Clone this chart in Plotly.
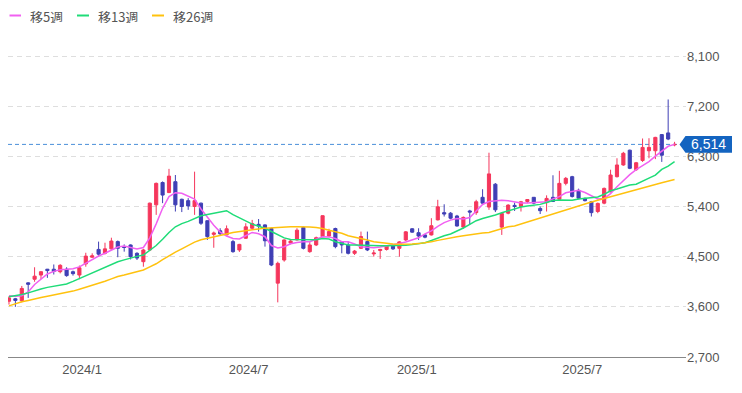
import pandas as pd
import plotly.graph_objects as go

# ---- data (weekly candles) ----
dates = pd.date_range("2023-10-13", periods=105, freq="7D")

opens = [3700, 3745, 3710, 4030, 4095, 4170, 4275, 4275, 4230, 4275,
         4230, 4170, 4370, 4490, 4630, 4560, 4640, 4770, 4680, 4710,
         4560, 4410, 4620, 5430, 5830, 5650, 5845, 5530, 5505, 5400,
         5460, 5145, 4900, 4965, 4890, 4770, 4620, 4830, 5010, 5080,
         5070, 5005, 4025, 4440, 4745, 4800, 5025, 4590, 4710, 4860,
         4870, 5005, 4770, 4710, 4560, 4650, 4770, 4550, 4610, 4630,
         4690, 4650, 4800, 5000, 4930, 4890, 4890, 5160, 5290, 5280,
         5230, 5030, 5320, 5290, 5565, 5390, 5800, 5030, 5280, 5420,
         5400, 5490, 5565, 5365, 5470, 5565, 5530, 5815, 5935, 5690,
         5545, 5485, 5310, 5460, 5665, 5935, 6145, 6410, 6060, 6225,
         6400, 6400, 6690, 6720, 6505]
highs = [3790, 3760, 3975, 4040, 4310, 4240, 4280, 4360, 4365, 4310,
         4250, 4340, 4570, 4560, 4770, 4750, 4840, 4790, 4720, 4720,
         4580, 4640, 5470, 5830, 5850, 6075, 5965, 5540, 5550, 6025,
         5470, 5150, 4950, 5010, 5060, 4800, 4730, 5100, 5160, 5175,
         5080, 5020, 4410, 4810, 4800, 5010, 5040, 4760, 4860, 5240,
         5000, 5020, 4780, 4770, 4620, 4950, 4950, 4620, 4640, 4700,
         4700, 4780, 4960, 5010, 5010, 4900, 5190, 5520, 5440, 5300,
         5250, 5220, 5340, 5520, 5710, 6365, 5820, 5290, 5440, 5470,
         5500, 5530, 5570, 5400, 5600, 5960, 6040, 5930, 5950, 5720,
         5560, 5500, 5470, 5740, 6060, 6265, 6380, 6420, 6200, 6620,
         6625, 6650, 6700, 7320, 6560]
lows = [3640, 3600, 3680, 3760, 4050, 4100, 4120, 4180, 4200, 4140,
        4160, 4095, 4320, 4480, 4500, 4540, 4620, 4490, 4590, 4450,
        4440, 4320, 4600, 5250, 5460, 5640, 5310, 5300, 5340, 5250,
        5070, 4800, 4660, 4890, 4880, 4570, 4585, 4820, 4990, 4950,
        4680, 4330, 3680, 4410, 4720, 4790, 4630, 4570, 4690, 4850,
        4850, 4650, 4560, 4540, 4530, 4640, 4600, 4500, 4460, 4610,
        4620, 4500, 4780, 4930, 4800, 4830, 4880, 5150, 5220, 5170,
        5040, 5000, 5080, 5250, 5440, 5340, 5300, 4890, 5260, 5320,
        5310, 5460, 5440, 5265, 5310, 5480, 5520, 5780, 5560, 5530,
        5490, 5220, 5280, 5440, 5650, 5920, 6130, 6070, 6040, 6200,
        6265, 6250, 6200, 6590, 6480]
closes = [3760, 3715, 3930, 4005, 4150, 4230, 4250, 4235, 4345, 4160,
          4195, 4300, 4510, 4515, 4545, 4640, 4780, 4650, 4665, 4500,
          4475, 4620, 5460, 5815, 5605, 5945, 5430, 5400, 5410, 5505,
          5100, 4860, 4925, 4910, 5000, 4590, 4720, 5035, 5095, 5050,
          4785, 4350, 4380, 4800, 4780, 4975, 4650, 4710, 4840, 5235,
          4950, 4680, 4710, 4560, 4600, 4860, 4620, 4565, 4630, 4690,
          4640, 4765, 4945, 4940, 4870, 4850, 5055, 5395, 5265, 5190,
          5050, 5205, 5300, 5485, 5460, 5985, 5340, 5275, 5425, 5400,
          5485, 5525, 5460, 5325, 5545, 5490, 5815, 5905, 5580, 5550,
          5505, 5290, 5455, 5725, 5965, 6145, 6355, 6085, 6185, 6460,
          6460, 6640, 6320, 6610, 6514]

ma5 = [3798, 3789, 3798, 3868, 4001, 4103, 4189, 4236, 4266, 4273,
       4284, 4316, 4386, 4451, 4512, 4562, 4612, 4673, 4689, 4663,
       4638, 4664, 4838, 5089, 5368, 5577, 5648, 5637, 5587, 5533,
       5355, 5206, 5063, 4941, 4871, 4826, 4817, 4876, 4935, 4912,
       4858, 4700, 4655, 4679, 4731, 4754, 4768, 4768, 4810, 4858,
       4855, 4826, 4768, 4768, 4727, 4679, 4670, 4661, 4673, 4691,
       4709, 4736, 4763, 4799, 4838, 4910, 4962, 5045, 5111, 5156,
       5183, 5176, 5203, 5319, 5436, 5490, 5508, 5513, 5504, 5481,
       5461, 5463, 5468, 5481, 5486, 5536, 5578, 5646, 5669, 5691,
       5651, 5594, 5534, 5543, 5631, 5755, 5870, 5972, 6062, 6130,
       6206, 6304, 6399, 6480, 6514]
ma13 = [3780, 3798, 3821, 3850, 3891, 3920, 3949, 3968, 3986, 4010,
        4056, 4106, 4160, 4212, 4266, 4316, 4363, 4408, 4442, 4476,
        4505, 4530, 4609, 4700, 4813, 4935, 5036, 5093, 5133, 5183,
        5233, 5256, 5278, 5299, 5325, 5253, 5194, 5136, 5084, 5047,
        5009, 4951, 4894, 4837, 4810, 4808, 4799, 4799, 4803, 4824,
        4815, 4767, 4740, 4709, 4709, 4709, 4709, 4706, 4698, 4695,
        4695, 4702, 4707, 4718, 4731, 4751, 4790, 4839, 4875, 4907,
        4955, 5014, 5081, 5145, 5186, 5212, 5249, 5287, 5325, 5359,
        5391, 5407, 5421, 5438, 5472, 5506, 5517, 5517, 5511, 5533,
        5544, 5549, 5571, 5619, 5682, 5714, 5746, 5784, 5800, 5861,
        5909, 5963, 6066, 6125, 6207]
ma26 = [3617, 3656, 3690, 3715, 3746, 3769, 3791, 3812, 3836, 3861,
        3882, 3916, 3949, 3985, 4020, 4060, 4101, 4144, 4171, 4201,
        4232, 4261, 4318, 4372, 4446, 4519, 4580, 4641, 4707, 4760,
        4804, 4833, 4862, 4889, 4907, 4934, 4953, 4968, 4980, 4998,
        5012, 5021, 5025, 5032, 5038, 5038, 5038, 5032, 5021, 5005,
        4975, 4946, 4919, 4874, 4851, 4828, 4799, 4767, 4751, 4736,
        4727, 4724, 4722, 4727, 4734, 4745, 4768, 4792, 4817, 4840,
        4858, 4876, 4896, 4914, 4925, 4935, 4971, 5007, 5036, 5050,
        5086, 5126, 5163, 5201, 5238, 5274, 5308, 5341, 5386, 5420,
        5452, 5481, 5511, 5544, 5576, 5606, 5637, 5667, 5700, 5732,
        5764, 5795, 5827, 5857, 5886]

last_price = 6514
y_ticks = [2700, 3600, 4500, 5400, 6300, 7200, 8100]
x_tick_dates = ["2024-01-01", "2024-07-01", "2025-01-01", "2025-07-01"]
x_tick_text = ["2024/1", "2024/7", "2025/1", "2025/7"]
legend_names = ["移5週", "移13週", "移26週"]

UP = "#f5365c"
DOWN = "#3f3fb5"
MA_COLORS = ["#f160f1", "#1fdc78", "#ffc20e"]

fig = go.Figure()
fig.add_trace(go.Candlestick(
    x=dates, open=opens, high=highs, low=lows, close=closes,
    increasing=dict(line=dict(color=UP, width=1), fillcolor=UP),
    decreasing=dict(line=dict(color=DOWN, width=1), fillcolor=DOWN),
    showlegend=False, hoverinfo="skip",
))
for name, vals, col in zip(legend_names, [ma5, ma13, ma26], MA_COLORS):
    fig.add_trace(go.Scatter(x=dates, y=vals, mode="lines", name=name,
                             line=dict(color=col, width=1.5),
                             showlegend=False, hoverinfo="skip"))

# the page body has an 8px margin: figure coords = page coords - 8
OFF = 8
W, H = 742 - OFF, 393 - OFF
PL, PR, PT, PB = 8, 686, 30, 357          # plot box in page pixels
ML, MR = PL - OFF, W - (PR - OFF)
MT, MB = PT - OFF, H - (PB - OFF)
pw, ph = PR - PL, PB - PT


def px(xp):
    return (xp - PL) / pw


def py(yp):
    return 1 + (PT - yp) / ph


shapes = []
annotations = []
# custom legend
leg = [(9.5, 21, 29), (77, 89, 97), (152, 164, 172)]
for (x0, x1, xt), name, col in zip(leg, legend_names, MA_COLORS):
    shapes.append(dict(type="line", xref="paper", yref="paper",
                       x0=px(x0), x1=px(x1), y0=py(15.5), y1=py(15.5),
                       line=dict(color=col, width=2)))
    annotations.append(dict(xref="paper", yref="paper", x=px(xt), y=py(16),
                            text=name, showarrow=False, xanchor="left",
                            yanchor="middle", height=14, borderpad=0,
                            font=dict(size=13, color="#555",
                                      family="Noto Sans CJK JP")))

# last price line + label
shapes.append(dict(type="line", xref="paper", yref="y", x0=0, x1=px(680),
                   y0=last_price, y1=last_price, layer="below",
                   line=dict(color="#4a90d9", width=1, dash="4px,3px")))
hh = 150
shapes.append(dict(type="path", xref="paper", yref="y", layer="above",
                   path=(f"M {px(679.5)} {last_price} "
                         f"L {px(685.5)} {last_price + hh} "
                         f"L {px(732)} {last_price + hh} "
                         f"L {px(732)} {last_price - hh} "
                         f"L {px(685.5)} {last_price - hh} Z"),
                   fillcolor="#1464c0", line=dict(width=0)))
annotations.append(dict(xref="paper", yref="y", x=px(708.5), y=last_price,
                        text=f"{last_price:,}", showarrow=False,
                        xanchor="center", yanchor="middle",
                        font=dict(size=14, color="white",
                                  family="Liberation Sans, Arial")))

fig.update_layout(
    width=W, height=H,
    margin=dict(l=ML, r=MR, t=MT, b=MB, pad=0),
    paper_bgcolor="white", plot_bgcolor="white",
    shapes=shapes, annotations=annotations,
    showlegend=False,
    font=dict(family="Liberation Sans, Arial", color="#555"),
    xaxis=dict(
        type="date",
        range=["2023-10-11 22:00", "2025-10-22 12:00"],
        rangeslider=dict(visible=False),
        tickvals=x_tick_dates, ticktext=x_tick_text,
        showgrid=False, showline=True, linecolor="#888", linewidth=1,
        ticks="", tickfont=dict(size=13, color="#555"),
        zeroline=False,
    ),
    yaxis=dict(
        side="right",
        range=[2700, 2700 + ph * 17.94],
        tickvals=y_ticks, tickformat=",d",
        showgrid=True, gridcolor="#dedede", griddash="5px,4px",
        zeroline=False, showline=False, ticks="",
        tickfont=dict(size=13, color="#555"),
    ),
)

fig.write_html("out.html")
